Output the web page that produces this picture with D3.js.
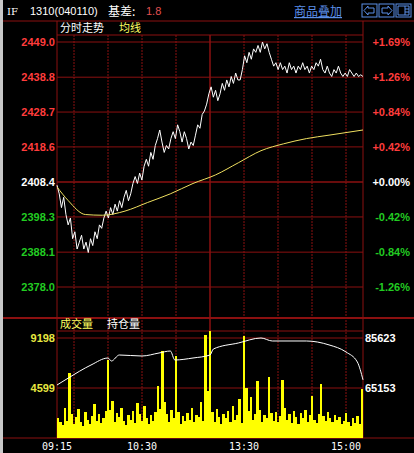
<!DOCTYPE html>
<html><head><meta charset="utf-8">
<script src="https://cdn.jsdelivr.net/npm/d3@7"></script>
<style>body{margin:0;background:#000}svg{display:block}</style>
</head><body><svg id="c" width="414" height="453"></svg>
<script>
// price every 2 minutes of the 270 trading minutes (09:15-11:30, 13:00-15:15)
const prices = [2407.5,2405,2401,2404,2399,2396,2398,2392,2394,2389,2391,2393,2389,2391,2388,2392,2390,2394,2392,2396,2395,2398,2400,
  2398,2401,2399,2402,2400,2403,2401,2404,2406,2403,2405,2408,2410,
  2408,2411,2409,2413,2415,2413,2417,2415,2419,2421,2423.5,2420,2417,2419,2418,
  2421,2423,2421,2425,2423,2420,2423,2421,2418,2420,2419,2422,2425,2424,2428,2429,
  2431,2434,2436,2433,2435,2432,2434,2437,2435,2438,2436,2439,2437,2440,2438,2438,
  2441,2445,2443,2446,2444,2447,2446,2448,2446,2449,2447,2448.5,2446,2444,2442,2443,
  2441,2443,2441,2442,2440,2443,2441,2442,2440,2442,2441,2443,2441,2442,2440,
  2442,2441,2443,2442,2444,2441,2440,2442,2440,2439,2441,2440,2442,2440,2439,
  2440,2439,2441,2440,2439,2440,2439,2439.5,2439];
const avgTimes = [0,10,25,40,60,80,100,120,140,160,180,200,220,240,270];
const avgPrices = [2407,2403,2399,2398.8,2400,2402.5,2405,2408,2410.5,2414,2417.5,2419.5,2421,2422,2423.5];
const volumes = [1800,1500,1200,2800,1600,6000,2200,1300,1900,2700,1500,1100,2400,1700,1300,2000,3100,1600,2200,1400,
  1800,2500,7200,2600,3400,1500,2300,1900,2800,1600,1200,2100,1700,2500,1400,3200,2200,1600,2900,1800,
  1300,2100,1600,2400,4800,2700,8000,3300,2200,1500,2600,1800,7500,2400,1300,2000,1600,2300,1700,2800,
  1500,2100,1900,3300,1600,9500,4300,9800,2400,1500,2700,1900,1300,2200,1800,2500,1500,2900,1700,2100,
  3600,1400,9400,4600,2500,3800,1700,2200,5200,2600,1500,2100,1800,5600,2300,1600,2400,1500,2000,5300,
  2800,1700,2200,1400,2500,1900,1300,2300,1800,2600,1500,2100,3900,1700,1400,2200,5000,2000,1600,2400,
  1800,1500,2100,1700,1900,1300,1600,2300,1500,1100,1800,1400,2000,1300,4500];
const oiTimes = [0,10,30,45,48,55,75,90,100,104,120,135,138,160,180,190,220,240,255,265,270];
const oiValues = [66381,69247,74569,77435,76200,78663,78254,79482,80300,76616,77435,78663,81120,83577,85623,84400,84400,82800,79900,75800,68500];
const priceTicks = [2449.0,2438.8,2428.7,2418.6,2408.4,2398.3,2388.1,2378.0];
const pctTicks = ["+1.69%","+1.26%","+0.84%","+0.42%","+0.00%","-0.42%","-0.84%","-1.26%"];
const timeLabels = [["09:15",0],["10:30",75],["13:30",165],["15:00",255]];
const base = 2408.4;

const svg = d3.select("#c");
const L = 57, R = 363;
const x = d3.scaleLinear().domain([0, 270]).range([L, R]);
const y = d3.scaleLinear().domain([2378.0, 2449.0]).range([287, 42]);
const yv = d3.scaleLinear().domain([0, 9198]).range([438, 338]);
const yo = d3.scaleLinear().domain([65153, 85623]).range([388, 338]);
const grid = "#8b1010";
const f = "Liberation Sans, Arial, sans-serif";
const cjk = "Noto Sans CJK SC, sans-serif";

svg.append("rect").attr("width", 414).attr("height", 453).attr("fill", "#000");
svg.append("rect").attr("x", 0).attr("y", 0).attr("width", 3).attr("height", 453).attr("fill", "#c8c8c8");

// header
svg.append("text").attr("x", 7).attr("y", 15).attr("fill", "#fff").attr("font-family", "DejaVu Serif, serif").attr("font-size", 10).text("IF");
svg.append("text").attr("x", 30).attr("y", 15).attr("fill", "#fff").attr("font-family", f).attr("font-size", 11).text("1310(040110)");
svg.append("text").attr("x", 108).attr("y", 16).attr("fill", "#fff").attr("font-family", cjk).attr("font-size", 12).text("基差:");
svg.append("text").attr("x", 146).attr("y", 15).attr("fill", "#e05050").attr("font-family", f).attr("font-size", 11).text("1.8");
svg.append("text").attr("x", 294).attr("y", 16).attr("fill", "#5b8fe8").attr("font-family", cjk).attr("font-size", 12).attr("text-decoration", "underline").text("商品叠加");
[0, 1, 2].forEach(i => {
  const g = svg.append("g").attr("transform", `translate(${362 + i * 17},4)`);
  g.append("rect").attr("width", 15).attr("height", 13).attr("fill", "none").attr("stroke", "#5b8fe8");
  const p = i === 0 ? "M12,4H6V2L2,6.5L6,11V9H12Z" : i === 1 ? "M3,4H9V2L13,6.5L9,11V9H3Z" : "M2,2H13V11H2ZM9,2V11M9,5H13M9,8H13";
  g.append("path").attr("d", p).attr("fill", "none").attr("stroke", "#5b8fe8");
});

// frames
svg.append("line").attr("x1", 3).attr("x2", 414).attr("y1", 21).attr("y2", 21).attr("stroke", grid);
svg.append("line").attr("x1", 3).attr("x2", 414).attr("y1", 318).attr("y2", 318).attr("stroke", grid).attr("stroke-width", 2);
svg.append("line").attr("x1", 3).attr("x2", 414).attr("y1", 438).attr("y2", 438).attr("stroke", grid);
svg.append("line").attr("x1", L).attr("x2", R).attr("y1", 35).attr("y2", 35).attr("stroke", grid);
svg.append("line").attr("x1", L).attr("x2", R).attr("y1", 331).attr("y2", 331).attr("stroke", grid);
[L, R].forEach(v => svg.append("line").attr("x1", v).attr("x2", v).attr("y1", 21).attr("y2", 438).attr("stroke", grid));
d3.range(15, 270, 30).forEach(m =>
  svg.append("line").attr("x1", x(m)).attr("x2", x(m)).attr("y1", 35).attr("y2", 438).attr("stroke", grid).attr("stroke-width", m === 135 ? 1.5 : 1).attr("stroke-dasharray", m === 135 ? null : "2,1"));
priceTicks.forEach(p => svg.append("line").attr("x1", L).attr("x2", R).attr("y1", y(p)).attr("y2", y(p)).attr("stroke", grid).attr("stroke-width", p === base ? 1.5 : 1));
[0, 4599, 9198].forEach(v => svg.append("line").attr("x1", L).attr("x2", R).attr("y1", yv(v)).attr("y2", yv(v)).attr("stroke", grid));

const col = p => p > base ? "#ff3c3c" : p < base ? "#22cc22" : "#ffffff";
priceTicks.forEach((p, i) => {
  svg.append("text").attr("x", L - 2).attr("y", y(p) + 4).attr("text-anchor", "end").attr("fill", col(p)).attr("font-family", f).attr("font-size", 11).attr("font-weight", "bold").text(p.toFixed(1));
  svg.append("text").attr("x", 410).attr("y", y(p) + 4).attr("text-anchor", "end").attr("fill", col(p)).attr("font-family", f).attr("font-size", 11).attr("font-weight", "bold").text(pctTicks[i]);
});
svg.append("text").attr("x", 60).attr("y", 32).attr("fill", "#fff").attr("font-family", cjk).attr("font-size", 11).text("分时走势");
svg.append("text").attr("x", 119).attr("y", 32).attr("fill", "#ffff60").attr("font-family", cjk).attr("font-size", 11).text("均线");

// price + average
const step = 270 / (prices.length - 1);
svg.append("path").datum(prices).attr("fill", "none").attr("stroke", "#fff").attr("stroke-width", 1)
  .attr("d", d3.line().x((d, i) => x(i * step)).y(d => y(d)));
svg.append("path").datum(avgTimes.map((t, i) => [t, avgPrices[i]])).attr("fill", "none").attr("stroke", "#f0e060").attr("stroke-width", 1)
  .attr("d", d3.line().curve(d3.curveMonotoneX).x(d => x(d[0])).y(d => y(d[1])));

// volume
const vstep = 270 / volumes.length;
svg.selectAll(".v").data(volumes).enter().append("rect")
  .attr("x", (d, i) => x(i * vstep)).attr("width", x(vstep) - x(0) + 0.2)
  .attr("y", d => yv(d)).attr("height", d => yv(0) - yv(d)).attr("fill", "#ffff00")
  .attr("shape-rendering", "crispEdges");
svg.append("path").datum(oiTimes.map((t, i) => [t, oiValues[i]])).attr("fill", "none").attr("stroke", "#fff").attr("stroke-width", 1)
  .attr("d", d3.line().curve(d3.curveMonotoneX).x(d => x(d[0])).y(d => yo(d[1])));
svg.append("text").attr("x", 60).attr("y", 328).attr("fill", "#ffff60").attr("font-family", cjk).attr("font-size", 11).text("成交量");
svg.append("text").attr("x", 107).attr("y", 328).attr("fill", "#fff").attr("font-family", cjk).attr("font-size", 11).text("持仓量");
[9198, 4599].forEach(v => svg.append("text").attr("x", L - 2).attr("y", yv(v) + 4).attr("text-anchor", "end").attr("fill", "#e8e840").attr("font-family", f).attr("font-size", 11).attr("font-weight", "bold").text(v));
[85623, 65153].forEach(v => svg.append("text").attr("x", 365).attr("y", yo(v) + 4).attr("fill", "#fff").attr("font-family", f).attr("font-size", 11).attr("font-weight", "bold").text(v));

timeLabels.forEach(([t, m]) => svg.append("text").attr("x", x(m)).attr("y", 450).attr("text-anchor", "middle").attr("fill", "#fff").attr("font-family", "DejaVu Sans Mono, monospace").attr("font-size", 10).text(t));
</script></body></html>
